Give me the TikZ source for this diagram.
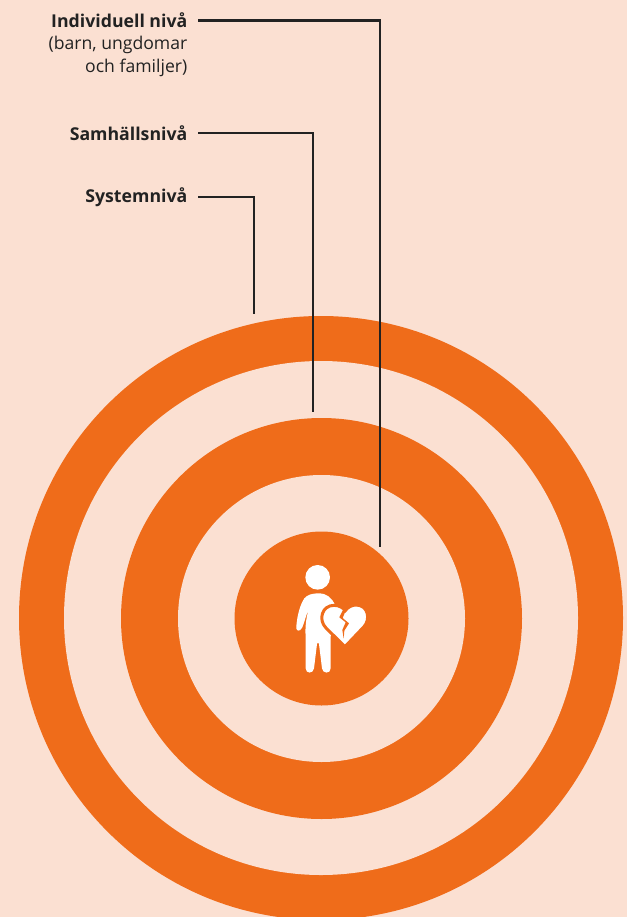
\documentclass[tikz,border=0pt]{standalone}
\usepackage{fontspec}
\setmainfont{Open Sans}
\usetikzlibrary{positioning}
\definecolor{bgrose}{HTML}{FBE0D2}
\definecolor{ringorange}{HTML}{EF6C1A}
\definecolor{inkdark}{HTML}{222222}
\tikzstyle{ring} = [circle, fill=ringorange, inner sep=0pt, outer sep=0pt]
\tikzstyle{hole} = [circle, fill=bgrose, inner sep=0pt, outer sep=0pt]
\tikzstyle{level} = [anchor=east, text=inkdark, font=\fontsize{17.7}{20}\selectfont\bfseries, inner xsep=10.5pt, inner ysep=0pt]
\tikzstyle{sublevel} = [text=inkdark, font=\fontsize{17.6}{23.5}\selectfont, align=right, inner xsep=0pt, inner ysep=0pt]
\tikzstyle{leader} = [inkdark, line width=2.6pt]

\begin{document}
\begin{tikzpicture}[x=1pt,y=-1pt]
\useasboundingbox (0,0) rectangle (627,917);
\clip (0,0) rectangle (627,917);
\fill [bgrose] (0,0) rectangle (627,917);

% rings
\node (outer) [ring, minimum size=604pt] at (321,618) {};
\node (outerhole) [hole, minimum size=514pt] at (321,618) {};
\node (middle) [ring, minimum size=401pt] at (321.5,618.5) {};
\node (middlehole) [hole, minimum size=287pt] at (321.5,618.5) {};
\node (core) [ring, minimum size=174pt] at (321.5,618.5) {};

% labels
\node (indiv) [level] at (198,20.5) {Individuell nivå};
\node (indivsub) [sublevel, anchor=north east] at (187.5,35.5) {(barn, ungdomar\\och familjer)};
\node (samh) [level] at (198,133) {Samhällsnivå};
\node (syst) [level] at (198,197) {Systemnivå};

\coordinate (indivend) at (380,546.5);
\coordinate (samhend) at (313,411.5);
\coordinate (systend) at (254,313.5);

\draw [leader] (indiv.east) -| (indivend);
\draw [leader] (samh.east) -| (samhend);
\draw [leader] (syst.east) -| (systend);

% child with broken heart
\begin{scope}[shift={(270,540)},x=0.3333pt,y=-0.3333pt]
\fill [white] (143,112) circle (37);
\fill [white] (145,160) .. controls (170,160) and (185,172) .. (195,195)
  -- (182,290) -- (182,385) .. controls (182,402) and (158,402) .. (156,385)
  -- (147,312) .. controls (145,306) and (143,306) .. (141,312)
  -- (132,385) .. controls (130,402) and (107,402) .. (107,385)
  -- (107,290) .. controls (105,262) and (108,235) .. (116,208)
  .. controls (108,225) and (104,245) .. (97,262)
  .. controls (90,277) and (76,275) .. (79,258)
  .. controls (82,225) and (90,195) .. (103,175)
  .. controls (112,164) and (128,160) .. (145,160) -- cycle;
\fill [white, draw=ringorange, line width=3pt] (225,320)
  -- (168,264) .. controls (143,238) and (157,196) .. (192,196)
  .. controls (208,196) and (220,204) .. (226,212)
  .. controls (233,202) and (245,195) .. (258,195)
  .. controls (295,195) and (302,238) .. (282,260) -- cycle;
\fill [ringorange] (225,198) -- (208,232) -- (227,247) -- (217,270) -- (221,296)
  -- (223,272) -- (237,250) -- (218,234) -- (233,198) -- cycle;
\end{scope}
\end{tikzpicture}
\end{document}
